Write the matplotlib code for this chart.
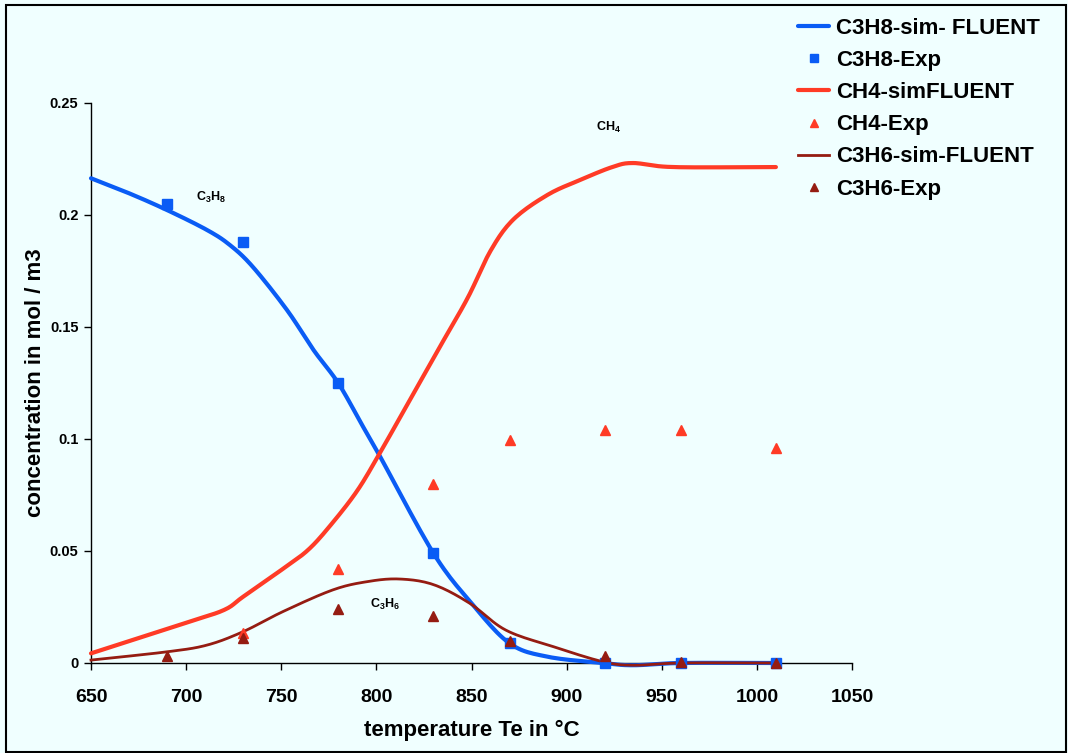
import matplotlib
matplotlib.use("Agg")
import matplotlib.pyplot as plt
import numpy as np
from matplotlib.patches import Rectangle

plt.rcParams['font.family'] = ['Liberation Sans', 'DejaVu Sans']
plt.rcParams['mathtext.fontset'] = 'custom'
plt.rcParams['mathtext.rm'] = 'Liberation Sans:bold'
plt.rcParams['mathtext.bf'] = 'Liberation Sans:bold'
plt.rcParams['mathtext.it'] = 'Liberation Sans:bold'

# ---- data ----
c3h8_sim_T = [650, 670, 690, 711, 723, 735, 753, 767, 780, 793, 802, 830, 850, 870, 890, 919, 935, 960, 1010]
c3h8_sim_v = [0.2164, 0.2097, 0.2022, 0.1933, 0.1866, 0.1769, 0.1576, 0.1397, 0.1249, 0.1055, 0.0921,
              0.049, 0.0267, 0.0088, 0.0028, 0.0, -0.001, 0.0, 0.0]

exp_T = [690, 730, 780, 830, 870, 920, 960, 1010]
c3h8_exp = [0.205, 0.188, 0.125, 0.049, 0.009, 0.0, 0.0, 0.0]

ch4_sim_T = [650, 700, 720, 730, 750, 764, 776, 790, 802, 818, 833, 848, 860, 872, 890, 907, 924, 935, 956, 1010]
ch4_sim_v = [0.0043, 0.018, 0.0237, 0.0296, 0.0415, 0.0504, 0.0616, 0.077, 0.0940, 0.118, 0.1406, 0.163,
             0.184, 0.198, 0.209, 0.2156, 0.2214, 0.2232, 0.2214, 0.2214]

ch4_exp_T = [730, 780, 830, 870, 920, 960, 1010]
ch4_exp = [0.0134, 0.042, 0.080, 0.0995, 0.104, 0.104, 0.096]

c3h6_sim_T = [650, 690, 711, 730, 751, 777, 795, 812, 830, 849, 868, 893, 919, 935, 960, 1010]
c3h6_sim_v = [0.0013, 0.005, 0.008, 0.014, 0.023, 0.0326, 0.0363, 0.0375, 0.0350, 0.0267, 0.0147,
              0.0073, 0.0006, -0.001, 0.0, 0.0]
c3h6_exp = [0.003, 0.011, 0.024, 0.021, 0.010, 0.003, 0.0005, 0.0]

labels = ['C3H8-sim- FLUENT', 'C3H8-Exp', 'CH4-simFLUENT', 'CH4-Exp', 'C3H6-sim-FLUENT', 'C3H6-Exp']
x_ticks = [650, 700, 750, 800, 850, 900, 950, 1000, 1050]
y_ticks = [0, 0.05, 0.1, 0.15, 0.2, 0.25]
y_tick_labels = ['0', '0.05', '0.1', '0.15', '0.2', '0.25']

BLUE = '#0A5CF5'
RED = '#FF3B26'
DARK = '#951C12'
BG = '#F0FFFF'


def smooth(xs, ys, n=12):
    """Catmull-Rom rendering of a polyline (like a spreadsheet 'smoothed line')."""
    x = np.asarray(xs, float)
    y = np.asarray(ys, float)
    px = np.concatenate([[2 * x[0] - x[1]], x, [2 * x[-1] - x[-2]]])
    py = np.concatenate([[2 * y[0] - y[1]], y, [2 * y[-1] - y[-2]]])
    ox, oy = [], []
    for i in range(1, len(px) - 2):
        t = np.linspace(0, 1, n, endpoint=False)
        for arr, out in ((px, ox), (py, oy)):
            p0, p1, p2, p3 = arr[i - 1], arr[i], arr[i + 1], arr[i + 2]
            out.extend(0.5 * ((2 * p1) + (-p0 + p2) * t + (2 * p0 - 5 * p1 + 4 * p2 - p3) * t ** 2
                              + (-p0 + 3 * p1 - 3 * p2 + p3) * t ** 3))
    ox.append(x[-1])
    oy.append(y[-1])
    return ox, oy


fig = plt.figure(figsize=(10.68, 7.53), dpi=100, facecolor=BG)
ax = fig.add_axes([91/1068, 1-663/753, (852-91)/1068, (663-103)/753])
ax.set_facecolor(BG)

h1, = ax.plot(*smooth(c3h8_sim_T, c3h8_sim_v), color=BLUE, lw=3.0, clip_on=False, zorder=3,
              solid_capstyle='round')
h2, = ax.plot(exp_T, c3h8_exp, ls='none', marker='s', ms=7, color=BLUE, clip_on=False, zorder=4)
h3, = ax.plot(*smooth(ch4_sim_T, ch4_sim_v), color=RED, lw=3.0, clip_on=False, zorder=3,
              solid_capstyle='round')
h4, = ax.plot(ch4_exp_T, ch4_exp, ls='none', marker='^', ms=7, color=RED, clip_on=False, zorder=4)
h5, = ax.plot(*smooth(c3h6_sim_T, c3h6_sim_v), color=DARK, lw=2.0, clip_on=False, zorder=3)
h6, = ax.plot(exp_T, c3h6_exp, ls='none', marker='^', ms=7, color=DARK, clip_on=False, zorder=5)

ax.set_xlim(650, 1050)
ax.set_ylim(0, 0.25)
ax.set_xticks(x_ticks)
ax.set_xticklabels([str(t) for t in x_ticks], fontsize=14, fontweight='bold')
ax.set_yticks(y_ticks)
ax.set_yticklabels(y_tick_labels, fontsize=10.5, fontweight='bold')
ax.tick_params(axis='both', direction='out', length=5, width=1, color='black')
ax.tick_params(axis='x', pad=14)
ax.tick_params(axis='y', pad=4)
for s in ['top', 'right']:
    ax.spines[s].set_visible(False)
for s in ['left', 'bottom']:
    ax.spines[s].set_linewidth(1)

ax.set_xlabel('temperature Te in °C', fontsize=16, fontweight='bold', labelpad=10)
ax.set_ylabel('concentration in mol / m3', fontsize=16, fontweight='bold', labelpad=3)

ax.text(713, 0.208, r'C$_3$H$_8$', fontsize=9, fontweight='bold', ha='center', va='center')
ax.text(922, 0.239, r'CH$_4$', fontsize=9, fontweight='bold', ha='center', va='center')
ax.text(804.5, 0.026, r'C$_3$H$_6$', fontsize=9, fontweight='bold', ha='center', va='center')

leg = fig.legend([h1, h2, h3, h4, h5, h6], labels, loc='upper left',
                 bbox_to_anchor=(798/1068, 1-18/753), frameon=False,
                 prop={'family': 'Liberation Sans', 'weight': 'bold', 'size': 16},
                 handlelength=1.4, handletextpad=0.3, labelspacing=0.5, borderpad=0,
                 borderaxespad=0, markerscale=0.8)

fig.patches.append(Rectangle((6/1068, 1/753), 1060/1068, 747/753, transform=fig.transFigure,
                             fill=False, edgecolor='black', lw=1.5))

fig.savefig('out.png', dpi=100, facecolor=BG)
